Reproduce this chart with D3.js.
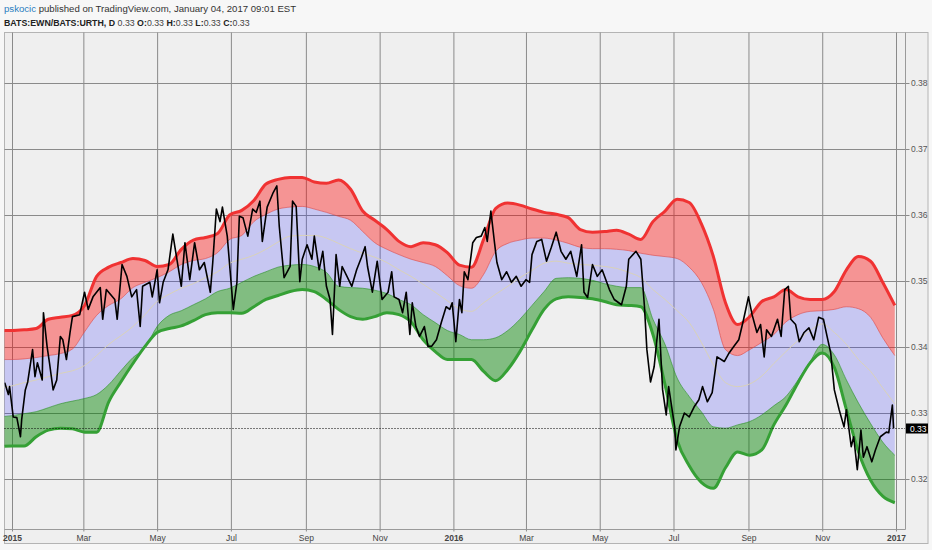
<!DOCTYPE html>
<html>
<head>
<meta charset="utf-8">
<script src="https://cdn.jsdelivr.net/npm/d3@7"></script>
<style>
	body { margin: 0; background: #f7f7f7; }
	text { font-family: "Liberation Sans", Arial, sans-serif; }
</style>
</head>
<body>
<div id="chart"></div>
<script>

// ---- Data ----
// band samples every 10 days, day 0 = 2015-01-01
var bandDays = d3.range(-10, 731, 10);

var outerUpper = [0.3425,0.3425,0.3426,0.3428,0.3442,0.3445,0.3448,0.3463,0.3507,0.3521,
	0.3528,0.3534,0.3531,0.3522,0.3525,0.3548,0.3562,0.3566,0.3572,0.3600,
	0.3607,0.3622,0.3647,0.3654,0.3657,0.3657,0.3650,0.3648,0.3653,0.3639,
	0.3606,0.3592,0.3578,0.3560,0.3552,0.3558,0.3555,0.3543,0.3524,0.3521,
	0.3563,0.3610,0.3618,0.3615,0.3609,0.3604,0.3601,0.3596,0.3578,0.3574,
	0.3575,0.3577,0.3571,0.3563,0.3590,0.3606,0.3624,0.3619,0.3587,0.3537,
	0.3467,0.3434,0.3446,0.3469,0.3476,0.3487,0.3476,0.3472,0.3472,0.3484,
	0.3517,0.3537,0.3530,0.3498,0.3463];

var innerUpper = [0.3381,0.3381,0.3382,0.3384,0.3387,0.3390,0.3397,0.3423,0.3448,0.3463,
	0.3473,0.3490,0.3498,0.3505,0.3514,0.3525,0.3531,0.3534,0.3543,0.3563,
	0.3569,0.3590,0.3601,0.3609,0.3612,0.3613,0.3609,0.3604,0.3598,0.3592,
	0.3575,0.3558,0.3548,0.3540,0.3533,0.3528,0.3522,0.3508,0.3493,0.3489,
	0.3510,0.3545,0.3557,0.3562,0.3565,0.3565,0.3562,0.3557,0.3551,0.3549,
	0.3549,0.3548,0.3546,0.3542,0.3539,0.3537,0.3534,0.3521,0.3498,0.3457,
	0.3396,0.3387,0.3396,0.3407,0.3419,0.3438,0.3449,0.3454,0.3455,0.3457,
	0.3461,0.3458,0.3445,0.3414,0.3387];

var middle = [0.3338,0.3341,0.3346,0.3350,0.3355,0.3360,0.3364,0.3372,0.3387,0.3404,
	0.3417,0.3431,0.3449,0.3469,0.3480,0.3489,0.3496,0.3505,0.3514,0.3527,
	0.3533,0.3539,0.3548,0.3559,0.3568,0.3569,0.3569,0.3565,0.3557,0.3549,
	0.3542,0.3536,0.3528,0.3517,0.3507,0.3495,0.3483,0.3470,0.3458,0.3454,
	0.3467,0.3480,0.3492,0.3505,0.3516,0.3527,0.3530,0.3527,0.3525,0.3524,
	0.3522,0.3519,0.3513,0.3505,0.3487,0.3472,0.3455,0.3437,0.3407,0.3373,
	0.3346,0.3340,0.3344,0.3356,0.3375,0.3393,0.3410,0.3425,0.3435,0.3422,
	0.3404,0.3381,0.3363,0.3338,0.3314];

var innerLower = [0.3294,0.3296,0.3299,0.3302,0.3308,0.3314,0.3318,0.3322,0.3328,0.3343,
	0.3364,0.3384,0.3399,0.3431,0.3448,0.3455,0.3464,0.3473,0.3484,0.3489,
	0.3498,0.3507,0.3514,0.3521,0.3524,0.3525,0.3522,0.3513,0.3492,0.3490,
	0.3489,0.3486,0.3481,0.3472,0.3464,0.3449,0.3437,0.3425,0.3419,0.3411,
	0.3411,0.3414,0.3425,0.3442,0.3463,0.3484,0.3504,0.3505,0.3504,0.3501,
	0.3496,0.3492,0.3490,0.3490,0.3442,0.3404,0.3353,0.3325,0.3302,0.3279,
	0.3277,0.3282,0.3287,0.3297,0.3311,0.3325,0.3350,0.3378,0.3404,0.3388,
	0.3350,0.3315,0.3284,0.3256,0.3236];

var outerLower = [0.3249,0.3250,0.3250,0.3264,0.3274,0.3277,0.3276,0.3271,0.3271,0.3317,
	0.3347,0.3375,0.3401,0.3422,0.3428,0.3432,0.3440,0.3449,0.3452,0.3452,
	0.3451,0.3461,0.3472,0.3478,0.3484,0.3487,0.3484,0.3472,0.3457,0.3446,
	0.3442,0.3446,0.3452,0.3449,0.3438,0.3411,0.3393,0.3381,0.3381,0.3381,
	0.3363,0.3349,0.3366,0.3393,0.3426,0.3457,0.3473,0.3476,0.3475,0.3473,
	0.3469,0.3464,0.3463,0.3461,0.3419,0.3343,0.3259,0.3220,0.3195,0.3186,
	0.3217,0.3241,0.3236,0.3244,0.3282,0.3312,0.3346,0.3376,0.3391,0.3369,
	0.3305,0.3241,0.3198,0.3174,0.3164];

// EWN/URTH ratio, day offsets from 2015-01-01
var priceDays = [-6,-3,-2,1,4,7,8,11,13,17,19,21,25,26,29,31,34,37,40,42,
	45,48,50,56,60,63,67,73,75,78,85,87,91,95,99,103,106,108,114,116,
	120,122,125,129,133,136,140,143,147,151,155,159,164,166,169,172,174,178,183,186,
	188,191,195,199,202,205,207,211,216,219,221,225,230,232,235,238,240,244,248,250,
	254,257,260,263,265,268,271,273,277,281,285,289,292,294,298,302,306,311,314,316,
	320,323,326,329,331,334,337,341,344,347,351,355,359,362,364,367,370,372,374,377,
	381,384,388,391,393,396,399,401,405,409,413,417,421,425,428,430,434,438,442,446,
	450,454,458,462,467,471,473,476,480,484,488,494,498,504,508,510,516,520,523,525,
	528,531,535,538,541,543,548,549,552,556,560,564,568,571,575,579,583,589,593,597,
	601,605,609,612,616,619,622,624,628,633,636,639,642,644,648,651,655,659,663,667,
	671,674,677,680,684,688,690,694,696,699,702,704,707,711,714,718,723,725,728,729];

var priceValues = [0.3346,0.3328,0.3340,0.3294,0.3293,0.3264,0.3290,0.3335,0.3347,0.3396,0.3355,0.3376,0.3350,0.3452,0.3401,0.3376,0.3335,0.3350,0.3416,0.3411,
	0.3381,0.3422,0.3446,0.3449,0.3483,0.3457,0.3476,0.3490,0.3442,0.3487,0.3472,0.3442,0.3525,0.3507,0.3476,0.3487,0.3431,0.3492,0.3498,0.3476,
	0.3517,0.3467,0.3498,0.3517,0.3571,0.3537,0.3492,0.3558,0.3502,0.3558,0.3517,0.3528,0.3483,0.3528,0.3609,0.3590,0.3612,0.3568,0.3457,0.3498,
	0.3598,0.3596,0.3568,0.3609,0.3604,0.3621,0.3560,0.3612,0.3634,0.3644,0.3583,0.3505,0.3522,0.3621,0.3613,0.3499,0.3533,0.3555,0.3533,0.3568,
	0.3517,0.3545,0.3492,0.3472,0.3419,0.3540,0.3492,0.3522,0.3507,0.3492,0.3517,0.3536,0.3552,0.3522,0.3483,0.3530,0.3472,0.3483,0.3514,0.3476,
	0.3472,0.3452,0.3483,0.3419,0.3467,0.3431,0.3416,0.3431,0.3401,0.3401,0.3411,0.3437,0.3461,0.3457,0.3467,0.3408,0.3472,0.3452,0.3514,0.3502,
	0.3558,0.3566,0.3568,0.3581,0.3560,0.3606,0.3558,0.3528,0.3502,0.3514,0.3498,0.3507,0.3492,0.3502,0.3498,0.3540,0.3560,0.3563,0.3530,0.3551,
	0.3574,0.3545,0.3533,0.3545,0.3507,0.3555,0.3483,0.3475,0.3525,0.3507,0.3517,0.3487,0.3472,0.3464,0.3492,0.3533,0.3545,0.3533,0.3461,0.3396,
	0.3347,0.3370,0.3442,0.3335,0.3297,0.3340,0.3279,0.3244,0.3279,0.3300,0.3294,0.3309,0.3320,0.3340,0.3317,0.3331,0.3385,0.3378,0.3391,0.3401,
	0.3411,0.3442,0.3476,0.3449,0.3422,0.3434,0.3385,0.3426,0.3416,0.3442,0.3416,0.3487,0.3492,0.3442,0.3434,0.3408,0.3422,0.3429,0.3411,0.3445,
	0.3442,0.3416,0.3391,0.3335,0.3305,0.3279,0.3305,0.3249,0.3264,0.3214,0.3274,0.3233,0.3249,0.3226,0.3244,0.3264,0.3271,0.3270,0.3312,0.3277];

var yTicks = [0.32, 0.33, 0.34, 0.35, 0.36, 0.37, 0.38];
var xTickDates = ["2015-01-01","2015-03-01","2015-05-01","2015-07-01","2015-09-01","2015-11-01",
	"2016-01-01","2016-03-01","2016-05-01","2016-07-01","2016-09-01","2016-11-01","2017-01-01"];
var xTickLabels = ["2015","Mar","May","Jul","Sep","Nov","2016","Mar","May","Jul","Sep","Nov","2017"];

var symbol = "BATS:EWN/BATS:URTH, D";
var ohlc = [["", "0.33"], ["O:", "0.33"], ["H:", "0.33"], ["L:", "0.33"], ["C:", "0.33"]];

// ---- Layout ----
var width = 932, height = 550;
var plot = {left: 4.5, right: 905.5, top: 32.5, bottom: 529.5};
var parseDate = d3.timeParse("%Y-%m-%d");
var day0 = new Date(2015, 0, 1);
function dayDate(d) { return d3.timeDay.offset(day0, d); }

var svg = d3.select("#chart").append("svg")
	.attr("width", width)
	.attr("height", height);

svg.append("rect")
	.attr("width", width).attr("height", height)
	.attr("fill", "#f7f7f7");

// chart frame
svg.append("rect")
	.attr("x", 4.5).attr("y", 32.5)
	.attr("width", 923.5).attr("height", 511)
	.attr("fill", "#efefef")
	.attr("stroke", "#b4b4b4");

var x = d3.scaleTime()
	.domain([day0, new Date(2017, 0, 1)])
	.range([12, 896]);

var y = d3.scaleLinear()
	.domain([0.32, 0.38])
	.range([479, 83]);

svg.append("defs").append("clipPath")
	.attr("id", "clip")
	.append("rect")
	.attr("x", plot.left).attr("y", plot.top)
	.attr("width", plot.right - plot.left)
	.attr("height", plot.bottom - plot.top);

// grid
var xDates = xTickDates.map(parseDate);

svg.append("g")
	.attr("class", "grid")
	.attr("transform", "translate(0," + plot.bottom + ")")
	.call(d3.axisBottom(x).tickValues(xDates).tickSize(-(plot.bottom - plot.top)).tickFormat(""))
	.call(function(g) { g.select(".domain").remove(); });

svg.append("g")
	.attr("class", "grid")
	.attr("transform", "translate(" + plot.left + ",0)")
	.call(d3.axisLeft(y).tickValues(yTicks).tickSize(-(plot.right - plot.left)).tickFormat(""))
	.call(function(g) { g.select(".domain").remove(); });

svg.selectAll(".grid line")
	.attr("stroke", "#8a8a8a")
	.attr("stroke-width", 1);

// bands
var bands = bandDays.map(function(d, i) {
	return {date: dayDate(d), ou: outerUpper[i], iu: innerUpper[i], mid: middle[i],
		il: innerLower[i], ol: outerLower[i]};
});

function band(top, bottom) {
	return d3.area()
		.curve(d3.curveMonotoneX)
		.x(function(d) { return x(d.date); })
		.y0(function(d) { return y(d[bottom]); })
		.y1(function(d) { return y(d[top]); });
}

function bandLine(key) {
	return d3.line()
		.curve(d3.curveMonotoneX)
		.x(function(d) { return x(d.date); })
		.y(function(d) { return y(d[key]); });
}

var chart = svg.append("g").attr("clip-path", "url(#clip)");

chart.append("path").datum(bands)
	.attr("d", band("ou", "iu"))
	.attr("fill", "rgba(255,0,0,0.38)");

chart.append("path").datum(bands)
	.attr("d", band("iu", "il"))
	.attr("fill", "rgba(40,40,255,0.2)");

chart.append("path").datum(bands)
	.attr("d", band("il", "ol"))
	.attr("fill", "rgba(0,130,0,0.46)");

chart.append("path").datum(bands)
	.attr("d", bandLine("iu"))
	.attr("fill", "none")
	.attr("stroke", "rgba(220,70,70,0.6)")
	.attr("stroke-width", 1);

chart.append("path").datum(bands)
	.attr("d", bandLine("il"))
	.attr("fill", "none")
	.attr("stroke", "rgba(40,140,40,0.6)")
	.attr("stroke-width", 1);

chart.append("path").datum(bands)
	.attr("d", bandLine("mid"))
	.attr("fill", "none")
	.attr("stroke", "#d9d2b8")
	.attr("stroke-width", 1);

chart.append("path").datum(bands)
	.attr("d", bandLine("ou"))
	.attr("fill", "none")
	.attr("stroke", "#f03232")
	.attr("stroke-width", 3)
	.attr("stroke-linejoin", "round");

chart.append("path").datum(bands)
	.attr("d", bandLine("ol"))
	.attr("fill", "none")
	.attr("stroke", "#35a035")
	.attr("stroke-width", 3)
	.attr("stroke-linejoin", "round");

// price
var price = priceDays.map(function(d, i) { return {date: dayDate(d), value: priceValues[i]}; });
var last = price[price.length - 1];

chart.append("path").datum(price)
	.attr("d", d3.line()
		.x(function(d) { return x(d.date); })
		.y(function(d) { return y(d.value); }))
	.attr("fill", "none")
	.attr("stroke", "#000")
	.attr("stroke-width", 1.6)
	.attr("stroke-linejoin", "round");

// last value line
svg.append("line")
	.attr("x1", plot.left).attr("x2", plot.right)
	.attr("y1", Math.round(y(last.value)) + 0.5)
	.attr("y2", Math.round(y(last.value)) + 0.5)
	.attr("stroke", "#000")
	.attr("stroke-dasharray", "1,2");

// plot borders
svg.append("line")
	.attr("x1", plot.right).attr("x2", plot.right)
	.attr("y1", plot.top).attr("y2", plot.bottom)
	.attr("stroke", "#9a9a9a");
svg.append("line")
	.attr("x1", plot.left).attr("x2", plot.right)
	.attr("y1", plot.bottom).attr("y2", plot.bottom)
	.attr("stroke", "#9a9a9a");

// right axis
var yAxis = svg.append("g")
	.attr("transform", "translate(" + plot.right + ",0)")
	.call(d3.axisRight(y).tickValues(yTicks).tickSize(4).tickPadding(1.5).tickFormat(d3.format(".2f")));
yAxis.select(".domain").remove();
yAxis.selectAll("line").attr("stroke", "#8a8a8a");
yAxis.selectAll("text")
	.attr("fill", "#555")
	.style("font-size", "8.5px");

// last value label
var ly = Math.round(y(last.value));
svg.append("rect")
	.attr("x", 906).attr("y", ly - 4.5)
	.attr("width", 22).attr("height", 10)
	.attr("fill", "#000");
svg.append("text")
	.attr("x", 910).attr("y", ly + 3.5)
	.attr("fill", "#fff")
	.style("font-size", "8.5px")
	.text(d3.format(".2f")(last.value));

// bottom axis
var xAxis = svg.append("g")
	.attr("transform", "translate(0," + plot.bottom + ")")
	.call(d3.axisBottom(x).tickValues(xDates).tickSize(2).tickPadding(3)
		.tickFormat(function(d, i) { return xTickLabels[i]; }));
xAxis.select(".domain").remove();
xAxis.selectAll("line").attr("stroke", "#8a8a8a");
xAxis.selectAll("text")
	.attr("fill", "#444")
	.style("font-size", "8.5px")
	.style("font-weight", function(d) { return d.getMonth() === 0 ? "bold" : "normal"; });

// header
var h1 = svg.append("text")
	.attr("x", 4).attr("y", 11.5)
	.style("font-size", "9.6px")
	.attr("fill", "#333");
h1.append("tspan").attr("fill", "#2a7dc0").text("pskocic");
h1.append("tspan").text(" published on TradingView.com, January 04, 2017 09:01 EST");

var h2 = svg.append("text")
	.attr("x", 4).attr("y", 25.5)
	.style("font-size", "8.8px")
	.attr("fill", "#222");
h2.append("tspan").style("font-weight", "bold").text(symbol);
ohlc.forEach(function(p) {
	h2.append("tspan").style("font-weight", "bold").text(" " + p[0]);
	h2.append("tspan").attr("fill", "#444").text(p[1]);
});

</script>
</body>
</html>
